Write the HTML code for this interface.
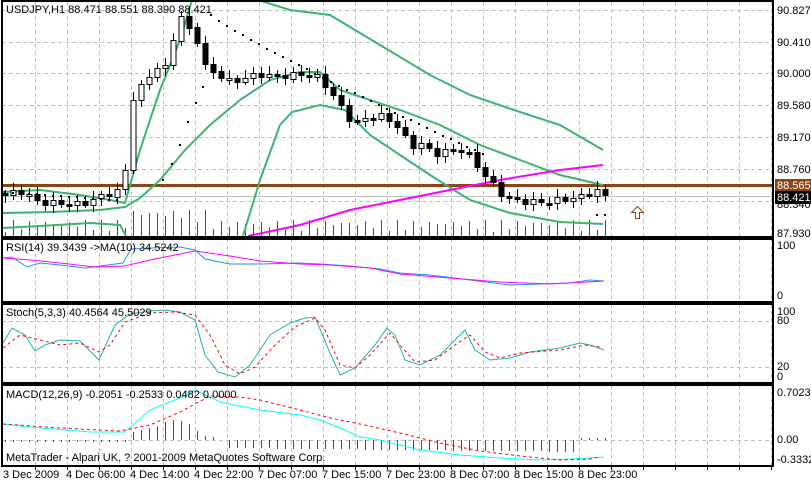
<!DOCTYPE html>
<html><head><meta charset="utf-8"><style>
body{margin:0;background:#fff;}
svg{display:block;font-family:"Liberation Sans",sans-serif;font-size:11px;}
</style></head><body>
<svg id="s" width="811" height="483" xmlns="http://www.w3.org/2000/svg">
<rect width="811" height="483" fill="#fff"/>
<g id="grid"></g>
<g id="main"></g>
<g id="ind"></g>
<g stroke="#000" stroke-width="2" fill="none">
<rect x="2" y="1" width="771" height="236"/>
<rect x="2" y="239" width="771" height="63"/>
<rect x="2" y="304" width="771" height="79"/>
<rect x="2" y="385" width="771" height="81"/>
</g>
<g fill="#000">
<text x="6" y="13">USDJPY,H1  88.471 88.551 88.390 88.421</text>
<text x="6" y="251">RSI(14) 39.3439  -&gt;MA(10) 34.5242</text>
<text x="6" y="316">Stoch(5,3,3) 40.4564 45.5029</text>
<text x="6" y="398">MACD(12,26,9) -0.2051 -0.2533 0.0482 0.0000</text>
<text x="6" y="461">MetaTrader - Alpari UK, ? 2001-2009 MetaQuotes Software Corp.</text>
<text x="777" y="14">90.827</text><text x="777" y="46">90.410</text><text x="777" y="77">90.000</text>
<text x="777" y="109">89.580</text><text x="777" y="141">89.170</text><text x="777" y="173">88.760</text>
<text x="777" y="208">88.340</text><text x="777" y="237">87.930</text>
<text x="777" y="249">100</text><text x="777" y="299">0</text>
<text x="777" y="315">100</text><text x="777" y="324">80</text><text x="777" y="370">20</text><text x="777" y="380">0</text>
<text x="777" y="396">0.7023</text><text x="777" y="443">0.00</text><text x="777" y="463">-0.3332</text>
<text x="3" y="478">3 Dec 2009</text><text x="66" y="478">4 Dec 06:00</text><text x="130" y="478">4 Dec 14:00</text>
<text x="194" y="478">4 Dec 22:00</text><text x="258" y="478">7 Dec 07:00</text><text x="322" y="478">7 Dec 15:00</text>
<text x="386" y="478">7 Dec 23:00</text><text x="450" y="478">8 Dec 07:00</text><text x="514" y="478">8 Dec 15:00</text>
<text x="578" y="478">8 Dec 23:00</text>
</g>
<rect x="775" y="179" width="36" height="13" fill="#8b4513"/>
<text x="777" y="189" fill="#fff">88.565</text>
<rect x="775" y="191" width="36" height="13" fill="#000"/>
<text x="777" y="201" fill="#fff">88.421</text>
<path d="M635.5 218.5 v-6 h-4 l6 -6 l6 6 h-4 v6z" fill="#fff" stroke="#8b4513"/>
</svg>
<script>
var NS="http://www.w3.org/2000/svg";
function el(g,t,a){var e=document.createElementNS(NS,t);for(var k in a)e.setAttribute(k,a[k]);document.getElementById(g).appendChild(e);return e;}
function pl(g,pts,c,w,dash){el(g,"polyline",{points:pts.map(function(p){return p.join(",")}).join(" "),fill:"none",stroke:c,"stroke-width":w||1,"stroke-dasharray":dash||""});}
for(var x=35.5;x<773;x+=32){[[2,237],[239,302],[304,383],[385,466]].forEach(function(r){el("grid","line",{x1:x,y1:r[0],x2:x,y2:r[1],stroke:"#c0c0c0","stroke-dasharray":"4,3"});});
el("grid","line",{x1:x,y1:466,x2:x,y2:470,stroke:"#000"});}
[10,42,73,105,137,169,201,321,367,440].forEach(function(y){el("grid","line",{x1:2,y1:y+0.5,x2:773,y2:y+0.5,stroke:"#c0c0c0","stroke-dasharray":"4,3"});});
function Y(p){return 233-(p-87.93)*77;}
for(var i=0;i<76;i++){var x=5.5+8*i;var h=4+Math.abs(Math.sin(i*1.7))*12+(i>15&&i<26?10:0);el("main","line",{x1:x,y1:236,x2:x,y2:Math.round(236-h),stroke:"#008000"});}
el("main","line",{x1:2,y1:196.5,x2:773,y2:196.5,stroke:"#c0c0c0"});
el("main","line",{x1:2,y1:185.5,x2:773,y2:185.5,stroke:"#8b4513","stroke-width":3});
pl("main",[[3,192],[40,190],[80,195],[110,200],[125,203],[140,150],[160,90],[180,40],[192,0]],"#3cb371",2);
pl("main",[[258,0],[290,10],[330,15],[380,45],[430,75],[470,95],[520,112],[560,125],[603,150]],"#3cb371",2);
pl("main",[[3,213],[50,212],[100,210],[125,207],[140,198],[160,180],[185,150],[210,125],[240,100],[270,80],[300,72],[320,72],[340,90],[370,100],[400,110],[440,125],[480,145],[520,160],[560,175],[603,185]],"#3cb371",2);
pl("main",[[3,228],[40,226],[90,223],[120,225],[126,236]],"#3cb371",2);
pl("main",[[243,236],[260,180],[280,125],[292,112],[320,105],[345,110],[370,135],[400,155],[430,175],[470,200],[510,213],[560,222],[603,224]],"#3cb371",2);
pl("main",[[248,236],[300,225],[350,210],[400,200],[450,190],[500,180],[560,170],[603,165]],"#ff00ff",2);
var kp=[[5,88.42],[20,88.48],[40,88.33],[60,88.32],[80,88.3],[100,88.4],[115,88.47],[124,88.5],[131,89.65],[140,89.8],[148,89.95],[156,90.1],[164,90.0],[172,90.4],[180,90.78],[187,90.6],[195,90.55],[205,90.1],[215,90.02],[230,89.9],[245,89.95],[260,90.0],[280,89.96],[300,90.0],[320,89.95],[335,89.7],[345,89.5],[355,89.35],[370,89.45],[385,89.45],[400,89.3],[410,89.05],[420,89.1],[435,88.95],[450,89.0],[465,89.02],[475,88.85],[490,88.6],[505,88.4],[520,88.35],[540,88.33],[560,88.36],[580,88.4],[596,88.5],[604,88.42]];
function P(x){for(var j=1;j<kp.length;j++)if(x<=kp[j][0]){var a=kp[j-1],b=kp[j];return a[1]+(b[1]-a[1])*(x-a[0])/(b[0]-a[0]);}return kp[kp.length-1][1];}
var prev=P(5)+0.03;
for(var i=0;i<76;i++){var x=5.5+8*i;var c=P(x)+0.04*Math.sin(i*2.3);var o=prev;var hi=Math.max(o,c)+0.04+0.06*Math.abs(Math.sin(i*1.3));var lo=Math.min(o,c)-0.04-0.06*Math.abs(Math.cos(i*1.1));
el("main","line",{x1:x,y1:Math.round(Y(hi)),x2:x,y2:Math.round(Y(lo)),stroke:"#000"});
var t=Math.round(Math.min(Y(o),Y(c)))+0.5,h=Math.max(2,Math.round(Math.abs(Y(o)-Y(c))));
el("main","rect",{x:x-2.5,y:t,width:5,height:h,fill:c>=o?"#fff":"#000",stroke:"#000"});prev=c;}
function dot(x,y){el("main","rect",{x:x-1,y:Math.round(y)-1,width:2,height:2,fill:"#000"});}
for(var i=0;i<15;i++)dot(5+8*i,192+i*0.6);
[[163,180],[172,164],[180,145],[188,122],[196,103],[203,87]].forEach(function(p){dot(p[0],p[1]);});
for(var x=211;x<=485;x+=8){dot(x,15+Math.pow((x-211)/274,0.9)*140);}
dot(597,215);dot(605,215);
pl("ind",[[3,258],[12,257],[27,267],[40,263],[60,265],[85,268],[100,266],[123,263],[131,249],[150,248],[180,247],[195,250],[205,259],[230,264],[260,264],[300,263],[320,264],[350,266],[380,269],[400,273],[430,275],[470,280],[510,285],[540,284],[570,283],[590,280],[604,281]],"#1e90ff",1);
pl("ind",[[3,258],[30,260],[60,263],[95,267],[125,266],[150,260],[195,251],[230,256],[260,261],[300,264],[330,265],[370,268],[400,274],[450,278],[500,282],[550,284],[604,281]],"#ff00ff",1);
pl("ind",[[3,343],[12,328],[25,335],[35,351],[45,345],[60,340],[80,341],[99,360],[115,325],[130,314],[150,311],[165,310],[180,312],[195,320],[205,355],[218,372],[235,377],[250,365],[270,335],[290,323],[305,318],[315,317],[330,353],[340,375],[355,368],[375,345],[387,328],[395,335],[405,360],[420,365],[440,355],[460,335],[465,330],[475,350],[490,360],[510,358],[530,352],[560,348],[580,343],[590,345],[604,350]],"#20b2aa",1);
pl("ind",[[3,348],[20,335],[40,340],[60,345],[80,343],[99,352],[110,345],[125,322],[150,313],[175,312],[195,315],[210,335],[225,365],[240,374],[255,367],[275,345],[295,327],[315,318],[325,330],[340,365],[355,368],[370,355],[390,333],[400,345],[415,362],[435,360],[455,345],[470,335],[485,352],[500,358],[520,353],[560,350],[585,345],[600,347]],"#ff0000",1,"3,3");
for(var i=0;i<76;i++){var x=5.5+8*i;var y2;
if(x<128)y2=442;else if(x<215){var g=[8,10,12,14,18,20,19,16,9,4,3];y2=440-(g[i-16]||3);}
else if(x<222)continue;else if(x<580)y2=440+Math.round(Math.min(12,8+(x-227)/90));else y2=438;
el("ind","line",{x1:x,y1:440,x2:x,y2:y2,stroke:y2<440?"#008000":"#ff0000"});}
pl("ind",[[3,424],[30,427],[90,432],[125,432],[150,410],[180,398],[195,390],[220,402],[260,410],[300,415],[320,420],[340,428],[360,437],[380,440],[420,450],[460,455],[500,458],[540,460],[570,459],[590,458],[604,457]],"#00ffff",1);
pl("ind",[[3,424],[60,428],[120,431],[150,425],[180,412],[210,396],[240,397],[260,400],[300,410],[330,418],[360,424],[400,433],[440,443],[480,451],[520,456],[560,460],[590,459],[600,457]],"#ff0000",1,"3,3");
</script>
</body></html>
